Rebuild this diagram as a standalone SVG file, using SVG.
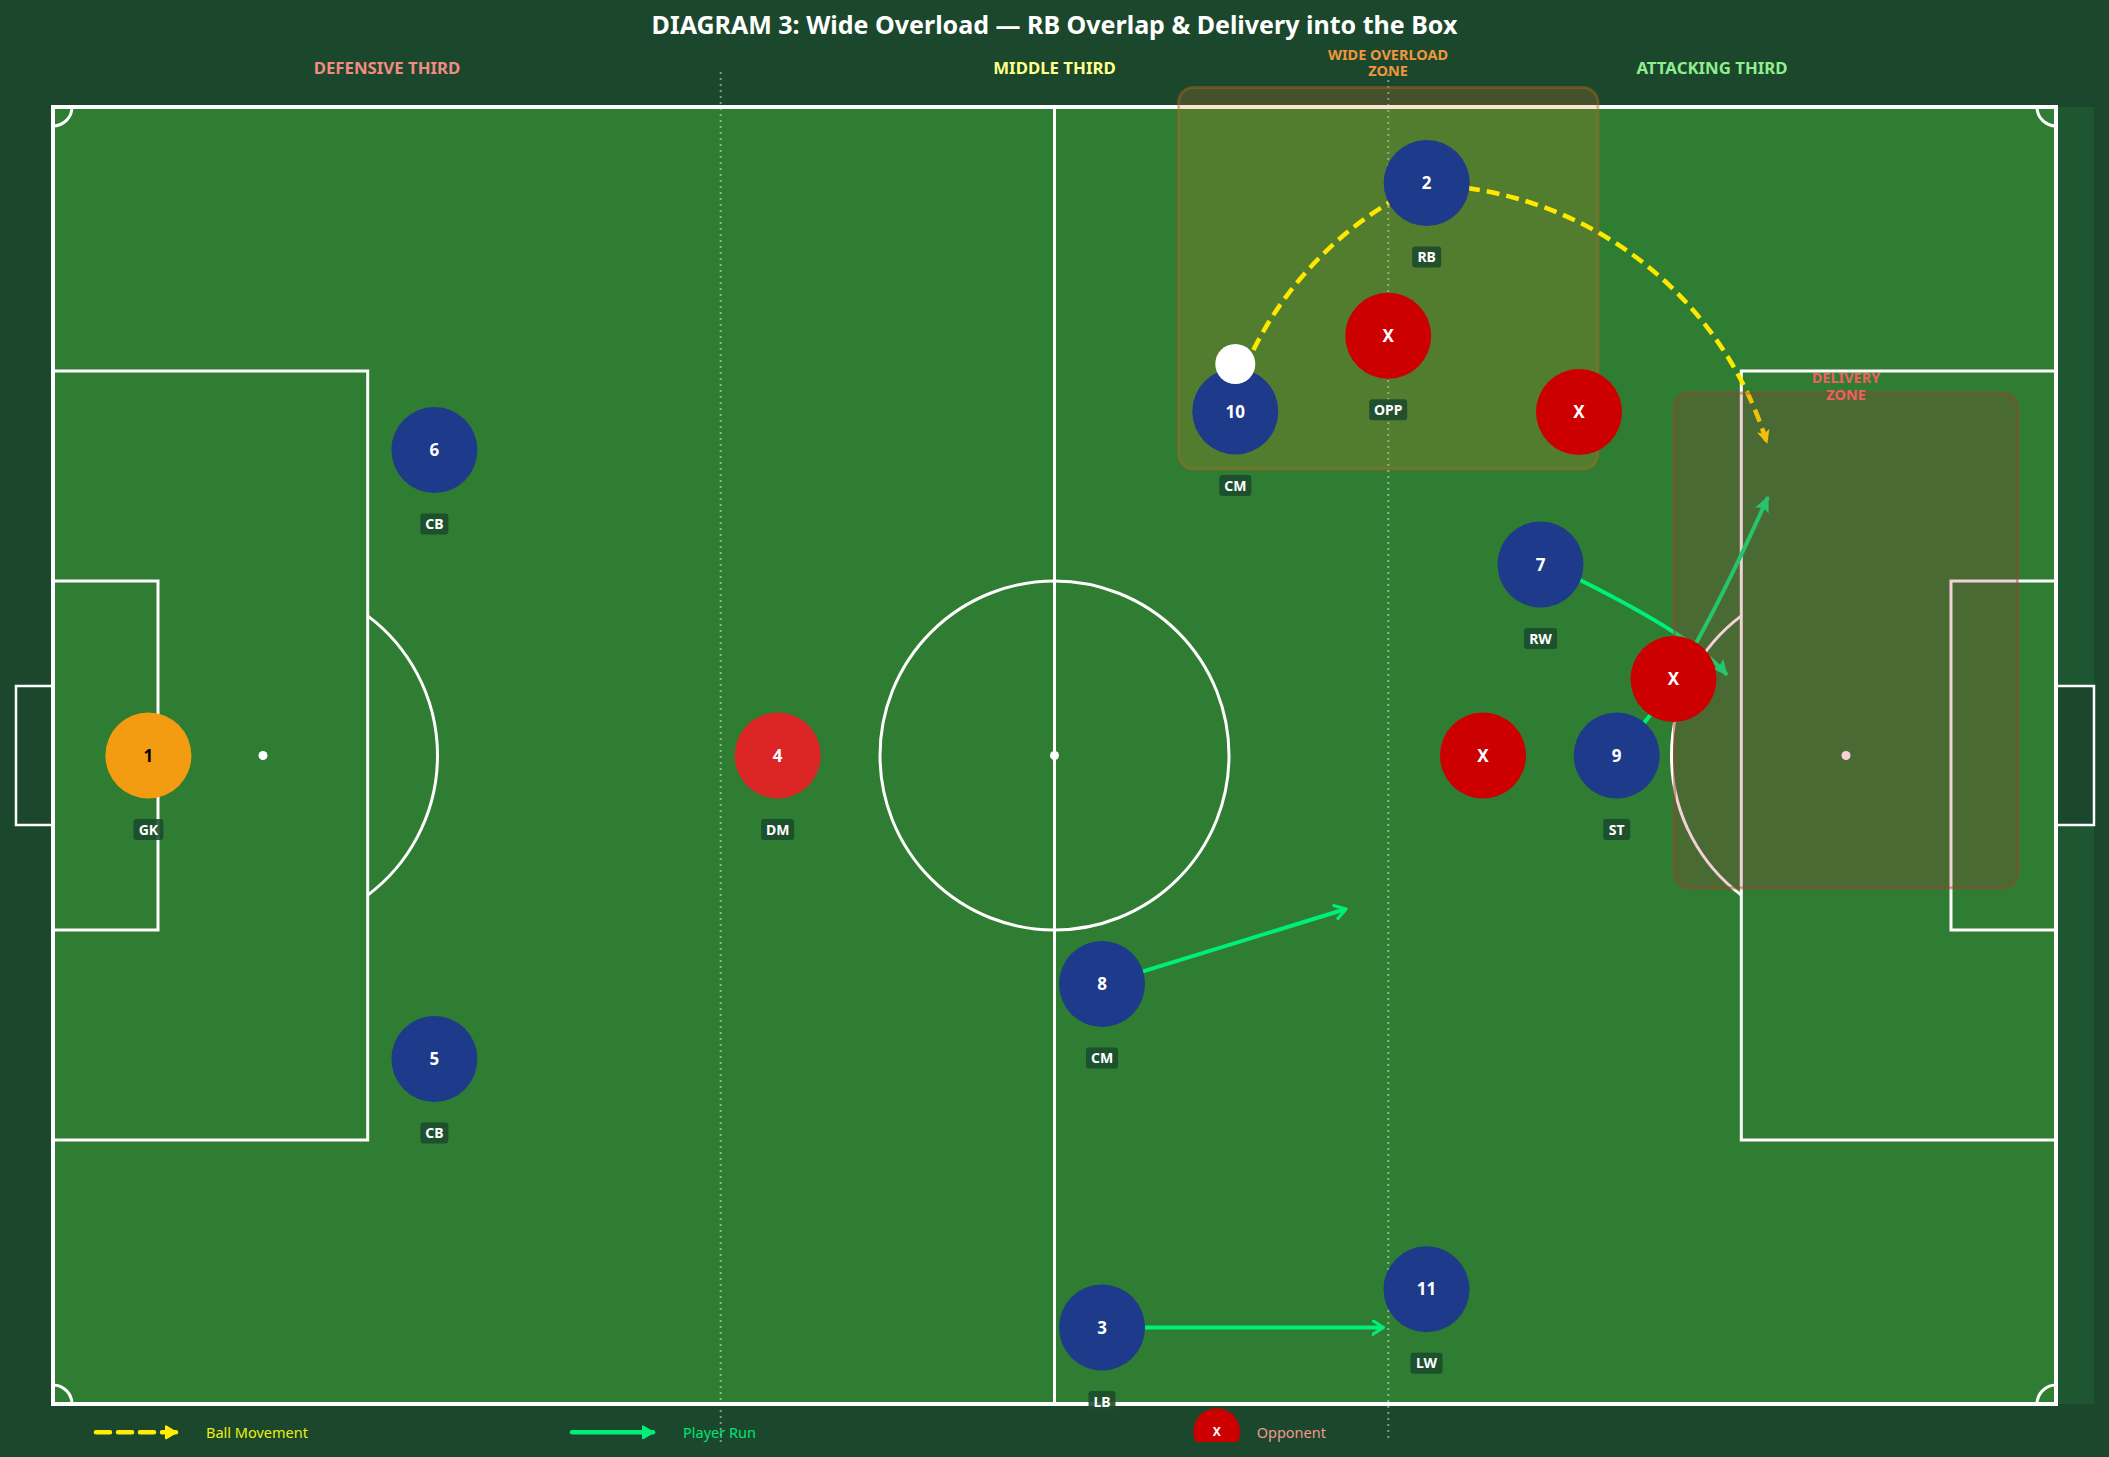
<svg xmlns="http://www.w3.org/2000/svg" width="2109" height="1457" viewBox="0 0 2109 1457">
<defs>
<style>
.ln{fill:none;stroke:#ffffff;stroke-width:3}
.third{stroke:#ffffff;stroke-opacity:.45;stroke-width:2;stroke-dasharray:2 4}
.ttl{font-family:"Noto Sans","Open Sans",sans-serif;font-weight:bold}
.blue{fill:#1e3a8a}
.opp{fill:#cc0000}
.num{font-family:"Noto Sans","Open Sans",sans-serif;font-weight:bold;font-size:17px;fill:#ffffff;text-anchor:middle}
.tagbox{fill:#1b4a2c;fill-opacity:.88}
.tag{font-family:"Noto Sans","Open Sans",sans-serif;font-weight:bold;font-size:14px;fill:#ffffff;text-anchor:middle}
.ball{fill:none;stroke:#ffe800;stroke-width:4.5;stroke-dasharray:13 7}
.run{fill:none;stroke:#00ee7a;stroke-width:4}
.leg{font-family:"Noto Sans","Open Sans",sans-serif;font-size:14.5px}
</style>
<marker id="hBall" markerUnits="userSpaceOnUse" markerWidth="15" markerHeight="15" viewBox="0 0 14 14" refX="12" refY="7" orient="auto"><path d="M0,1 L13,7 L0,13 L3,7 z" fill="#ffe800"/></marker>
<marker id="hRun" markerUnits="userSpaceOnUse" markerWidth="17" markerHeight="17" viewBox="0 0 16 16" refX="14" refY="8" orient="auto"><path d="M0,1 L15,8 L0,15 L3,8 z" fill="#00ee7a"/></marker>
<marker id="hChev" markerUnits="userSpaceOnUse" markerWidth="14" markerHeight="16" viewBox="0 0 14 16" refX="12" refY="8" orient="auto"><path d="M1,1 L12,8 L1,15" fill="none" stroke="#00ee7a" stroke-width="3.2" stroke-linecap="round" stroke-linejoin="round"/></marker>
<marker id="hLegB" markerUnits="userSpaceOnUse" markerWidth="14" markerHeight="16" viewBox="0 0 14 16" refX="12" refY="8" orient="auto"><path d="M2,2 L12,8 L2,14 z" fill="#ffee00" stroke="#ffee00" stroke-width="2" stroke-linejoin="round"/></marker>
<marker id="hLegR" markerUnits="userSpaceOnUse" markerWidth="14" markerHeight="16" viewBox="0 0 14 16" refX="12" refY="8" orient="auto"><path d="M2,2 L12,8 L2,14 z" fill="#00ee7a" stroke="#00ee7a" stroke-width="2" stroke-linejoin="round"/></marker>
<clipPath id="legClip"><rect x="0" y="1380" width="2109" height="62"/></clipPath>
</defs>

<rect x="0" y="0" width="2109" height="1457" fill="#1b482c"/>

<g id="pitch">
<rect x="2056" y="107" width="38" height="1297" fill="#1e5631"/>
<rect x="53" y="107" width="2003" height="1297" fill="#2e7d32"/>
<rect x="16" y="686" width="37" height="139" fill="#1b482c" stroke="#ffffff" stroke-width="2.5"/>
<rect x="2056" y="686" width="38" height="139" fill="#1b482c" stroke="#ffffff" stroke-width="2.5"/>
<rect x="53" y="107" width="2003" height="1297" fill="none" stroke="#ffffff" stroke-width="4"/>
<line class="ln" x1="1054.5" y1="107" x2="1054.5" y2="1404"/>
<circle class="ln" cx="1054.5" cy="755.5" r="174.5"/>
<circle cx="1054.5" cy="755.5" r="4.5" fill="#ffffff"/>
<rect class="ln" x="53" y="371" width="314.7" height="769"/>
<rect class="ln" x="53" y="581" width="105" height="349"/>
<circle cx="263" cy="755.5" r="4.5" fill="#ffffff"/>
<path class="ln" d="M367.7,615.9 A174.5,174.5 0 0 1 367.7,895.1"/>
<rect class="ln" x="1741.3" y="371" width="314.7" height="769"/>
<rect class="ln" x="1951" y="581" width="105" height="349"/>
<circle cx="1846" cy="755.5" r="4.5" fill="#ffffff"/>
<path class="ln" d="M1741.3,615.9 A174.5,174.5 0 0 0 1741.3,895.1"/>
<path class="ln" d="M53,126 A19,19 0 0 0 72,107"/>
<path class="ln" d="M2037,107 A19,19 0 0 0 2056,126"/>
<path class="ln" d="M72,1404 A19,19 0 0 0 53,1385"/>
<path class="ln" d="M2056,1385 A19,19 0 0 0 2037,1404"/>
<line class="third" x1="720.7" y1="72" x2="720.7" y2="1442"/>
<line class="third" x1="1388.3" y1="74" x2="1388.3" y2="1442"/>
</g>

<g id="titles">
<text class="ttl" x="1054.5" y="33.5" font-size="25" fill="#ffffff" text-anchor="middle">DIAGRAM 3: Wide Overload — RB Overlap &amp; Delivery into the Box</text>
<text class="ttl" x="387" y="73.5" font-size="16.8" fill="#f28b82" text-anchor="middle">DEFENSIVE THIRD</text>
<text class="ttl" x="1054.5" y="73.5" font-size="16.8" fill="#ffff8d" text-anchor="middle">MIDDLE THIRD</text>
<text class="ttl" x="1712" y="73.5" font-size="16.8" fill="#90ee90" text-anchor="middle">ATTACKING THIRD</text>
</g>

<g id="wide-overload-zone">
<rect x="1178.5" y="87.5" width="419.5" height="381.5" rx="15" fill="#e67e22" fill-opacity="0.2" stroke="#b8661e" stroke-opacity="0.4" stroke-width="3"/>
<text class="ttl" x="1388" y="59.5" font-size="14.5" fill="#f0963c" text-anchor="middle">WIDE OVERLOAD</text>
<text class="ttl" x="1388" y="75.5" font-size="14.5" fill="#f0963c" text-anchor="middle">ZONE</text>
</g>

<g id="connectors">
<path class="ball" d="M1245,368 A360,360 0 0 1 1392,201"/>
<path class="ball" d="M1467,188 A366,366 0 0 1 1767,443" marker-end="url(#hBall)"/>
<path class="run" d="M1143,971.4 L1346,909" marker-end="url(#hChev)"/>
<path class="run" d="M1145,1327.5 L1383.5,1327.5" marker-end="url(#hChev)"/>
<path class="run" d="M1580,580 Q1696.4,638.2 1727,675" marker-end="url(#hRun)"/>
<path class="run" d="M1644,723 Q1692.6,664.5 1768,497" marker-end="url(#hRun)"/>
</g>

<g id="delivery-zone">
<rect x="1674.5" y="393" width="343" height="495" rx="15" fill="#c0203c" fill-opacity="0.2" stroke="#a0402a" stroke-opacity="0.45" stroke-width="3"/>
<text class="ttl" x="1846" y="383" font-size="14.5" fill="#f06060" text-anchor="middle">DELIVERY</text>
<text class="ttl" x="1846" y="399.5" font-size="14.5" fill="#f06060" text-anchor="middle">ZONE</text>
</g>

<g id="players">
<g id="p1-gk"><circle cx="148.4" cy="755.5" r="43" fill="#f39c12"/><text class="num" x="148.4" y="761.5" style="fill:#000000">1</text><rect class="tagbox" x="133.4" y="819" width="30" height="21" rx="3"/><text class="tag" x="148.4" y="834.5">GK</text></g>
<g id="p6-cb"><circle class="blue" cx="434.4" cy="450" r="43"/><text class="num" x="434.4" y="456">6</text><rect class="tagbox" x="420.4" y="513.5" width="28" height="21" rx="3"/><text class="tag" x="434.4" y="529">CB</text></g>
<g id="p5-cb"><circle class="blue" cx="434.4" cy="1059" r="43"/><text class="num" x="434.4" y="1065">5</text><rect class="tagbox" x="420.4" y="1122.5" width="28" height="21" rx="3"/><text class="tag" x="434.4" y="1138">CB</text></g>
<g id="p4-dm"><circle cx="777.7" cy="755.5" r="43" fill="#dc2626"/><text class="num" x="777.7" y="761.5">4</text><rect class="tagbox" x="761.2" y="819" width="33" height="21" rx="3"/><text class="tag" x="777.7" y="834.5">DM</text></g>
<g id="p8-cm"><circle class="blue" cx="1102" cy="984" r="43"/><text class="num" x="1102" y="990">8</text><rect class="tagbox" x="1086" y="1047.5" width="32" height="21" rx="3"/><text class="tag" x="1102" y="1063">CM</text></g>
<g id="p3-lb"><circle class="blue" cx="1102" cy="1327.5" r="43"/><text class="num" x="1102" y="1333.5">3</text><rect class="tagbox" x="1088.5" y="1391" width="27" height="21" rx="3"/><text class="tag" x="1102" y="1406.5">LB</text></g>
<g id="p11-lw"><circle class="blue" cx="1426.5" cy="1289.3" r="43"/><text class="num" x="1426.5" y="1295.3">11</text><rect class="tagbox" x="1410.5" y="1352.8" width="32" height="21" rx="3"/><text class="tag" x="1426.5" y="1368.3">LW</text></g>
<g id="p10-cm"><circle class="blue" cx="1235.3" cy="411.5" r="43"/><text class="num" x="1235.3" y="417.5">10</text><rect class="tagbox" x="1219.3" y="475" width="32" height="21" rx="3"/><text class="tag" x="1235.3" y="490.5">CM</text></g>
<g id="p2-rb"><circle class="blue" cx="1426.7" cy="183" r="43"/><text class="num" x="1426.7" y="189">2</text><rect class="tagbox" x="1412.2" y="246.5" width="29" height="21" rx="3"/><text class="tag" x="1426.7" y="262">RB</text></g>
<g id="opp-1"><circle class="opp" cx="1388.2" cy="335.8" r="43"/><text class="num" x="1388.2" y="341.8">X</text><rect class="tagbox" x="1369.2" y="399.3" width="38" height="21" rx="3"/><text class="tag" x="1388.2" y="414.8">OPP</text></g>
<g id="opp-2"><circle class="opp" cx="1579" cy="412" r="43"/><text class="num" x="1579" y="418">X</text></g>
<g id="p7-rw"><circle class="blue" cx="1540.5" cy="564.5" r="43"/><text class="num" x="1540.5" y="570.5">7</text><rect class="tagbox" x="1524" y="628" width="33" height="21" rx="3"/><text class="tag" x="1540.5" y="643.5">RW</text></g>
<g id="opp-3"><circle class="opp" cx="1673.5" cy="679" r="43"/><text class="num" x="1673.5" y="685">X</text></g>
<g id="p9-st"><circle class="blue" cx="1616.7" cy="755.5" r="43"/><text class="num" x="1616.7" y="761.5">9</text><rect class="tagbox" x="1603.2" y="819" width="27" height="21" rx="3"/><text class="tag" x="1616.7" y="834.5">ST</text></g>
<g id="opp-4"><circle class="opp" cx="1483" cy="755.5" r="43"/><text class="num" x="1483" y="761.5">X</text></g>
<g id="ball"><circle cx="1235.3" cy="364" r="20" fill="#ffffff"/></g>
</g>

<g id="legend">
<path d="M96,1432.3 L176,1432.3" fill="none" stroke="#ffee00" stroke-width="4.5" stroke-linecap="round" stroke-dasharray="14 8" marker-end="url(#hLegB)"/>
<text class="leg" x="206" y="1437.5" fill="#eeee10">Ball Movement</text>
<path d="M572,1432.3 L653,1432.3" fill="none" stroke="#00ee7a" stroke-width="4.5" stroke-linecap="round" marker-end="url(#hLegR)"/>
<text class="leg" x="683" y="1437.5" fill="#00e676">Player Run</text>
<g clip-path="url(#legClip)"><circle cx="1216.7" cy="1431.6" r="23.3" fill="#cc0000"/></g>
<text x="1216.7" y="1436" font-family="Noto Sans, sans-serif" font-weight="bold" font-size="12" fill="#ffffff" text-anchor="middle">X</text>
<text class="leg" x="1256.7" y="1437.5" fill="#f4978e">Opponent</text>
</g>
</svg>
